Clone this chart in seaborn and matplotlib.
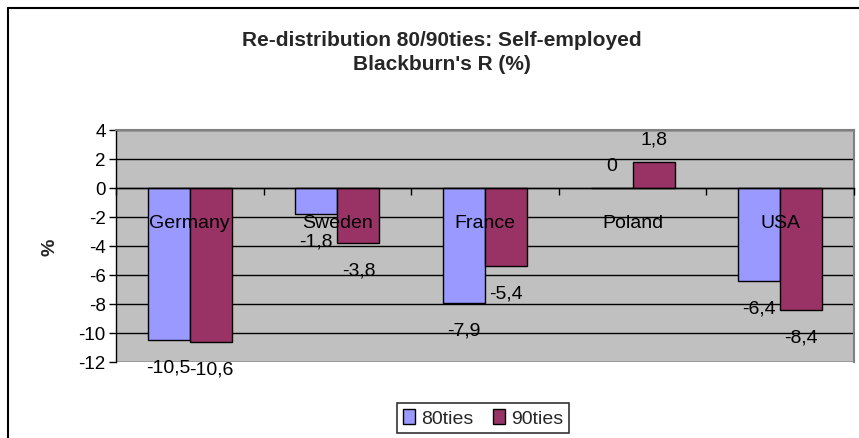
import numpy as np
import pandas as pd
import matplotlib
matplotlib.use("Agg")
import matplotlib.pyplot as plt
from matplotlib.lines import Line2D
import seaborn as sns

countries = ["Germany", "Sweden", "France", "Poland", "USA"]
series_names = ["80ties", "90ties"]
values_80ties = [-10.5, -1.8, -7.9, 0.0, -6.4]
values_90ties = [-10.6, -3.8, -5.4, 1.8, -8.4]
y_ticks = [-12, -10, -8, -6, -4, -2, 0, 2, 4]
title_line1 = "Re-distribution 80/90ties: Self-employed"
title_line2 = "Blackburn's R (%)"
ylabel = "%"
colors = ["#9999FF", "#993366"]

df = pd.DataFrame({
    "country": countries * 2,
    "period": [series_names[0]] * len(countries) + [series_names[1]] * len(countries),
    "value": values_80ties + values_90ties,
})

sns.set_theme(style="white")
plt.rcParams["font.family"] = ["Liberation Sans", "DejaVu Sans"]

fig = plt.figure(figsize=(8.59, 4.39), dpi=100)
ax = fig.add_axes([116 / 859, 1 - 363 / 439, (854 - 116) / 859, (363 - 131) / 439])

sns.barplot(data=df, x="country", y="value", hue="period", palette=colors,
            width=0.57, edgecolor="black", linewidth=1.0, ax=ax, legend=True,
            saturation=1)

ax.set_facecolor("#C0C0C0")
ax.set_ylim(-12, 4)
ax.set_xlim(-0.5, len(countries) - 0.5)
ax.set_yticks(y_ticks)
ax.set_yticklabels([str(t) for t in y_ticks], fontsize=13.5)
ax.set_axisbelow(True)
ax.yaxis.grid(True, color="black", linewidth=1.0)
ax.xaxis.grid(False)
ax.xaxis.set_zorder(3)

# x axis at zero
ax.spines["bottom"].set_position(("data", 0))
ax.spines["bottom"].set_color("black")
ax.spines["bottom"].set_linewidth(1.0)
ax.spines["left"].set_color("black")
ax.spines["left"].set_linewidth(1.0)
for s in ["top", "right"]:
    ax.spines[s].set_color("#808080")
    ax.spines[s].set_linewidth(1.5)

ax.set_xticks(range(len(countries)))
ax.set_xticklabels(countries, fontsize=14)
ax.set_xticks(np.arange(-0.5, len(countries), 1), minor=True)
ax.tick_params(axis="x", which="major", length=0, pad=19, colors="black")
ax.tick_params(axis="x", which="minor", length=5, width=1, direction="out",
               color="black", bottom=True)
ax.tick_params(axis="y", which="major", length=5, width=1, direction="out",
               color="black", left=True, pad=2.5, labelcolor="black")
ax.set_xlabel("")
ax.set_ylabel(ylabel, fontsize=14, fontweight="bold", labelpad=14)

# data labels
for cont in ax.containers:
    for bar in cont:
        v = bar.get_height()
        txt = "0" if v == 0 else f"{v:.1f}".replace(".", ",")
        x = bar.get_x() + bar.get_width() / 2
        off = 16.5 if v >= 0 else -19.5
        ax.annotate(txt, (x, v), xytext=(0, off), textcoords="offset points",
                    ha="center", va="center", fontsize=14, color="black",
                    zorder=4)

# legend
handles = [plt.Rectangle((0, 0), 1, 1, facecolor=c, edgecolor="black", linewidth=1.0)
           for c in colors]
if ax.get_legend() is not None:
    ax.get_legend().remove()
leg = fig.legend(handles, series_names, loc="center", bbox_to_anchor=(483 / 859, 1 - 419 / 439),
                 ncol=2, fontsize=14, frameon=True, fancybox=False, shadow=False,
                 handlelength=0.65, handleheight=0.85, handletextpad=0.3,
                 columnspacing=1.0, borderpad=0.3, borderaxespad=0)
leg.get_frame().set_edgecolor("black")
leg.get_frame().set_linewidth(1.2)

# title
fig.text(442 / 859, 1 - 41 / 439, title_line1, ha="center", va="center",
         fontsize=15, fontweight="bold")
fig.text(442 / 859, 1 - 65 / 439, title_line2, ha="center", va="center",
         fontsize=15, fontweight="bold")

# outer chart frame
fig.add_artist(Line2D([8 / 859, 8 / 859], [0, 1 - 9 / 439], transform=fig.transFigure,
                      color="black", linewidth=1.5))
fig.add_artist(Line2D([8 / 859, 1], [1 - 9 / 439, 1 - 9 / 439], transform=fig.transFigure,
                      color="black", linewidth=1.5))

fig.savefig("out.png", dpi=100)
